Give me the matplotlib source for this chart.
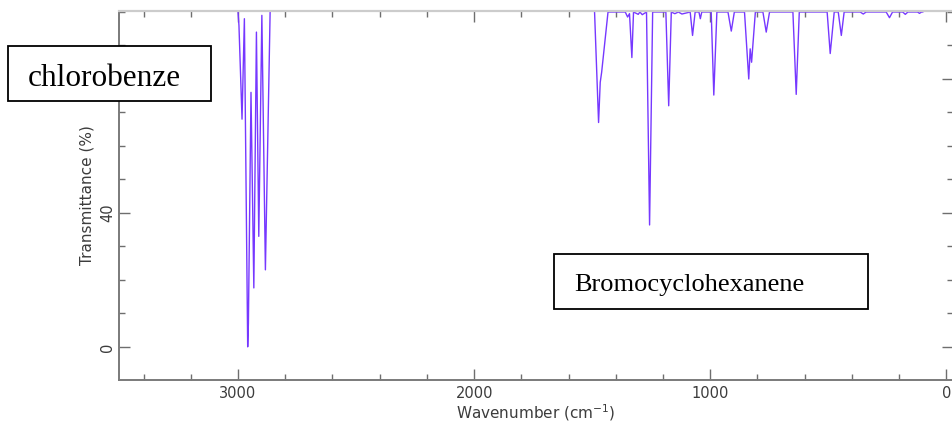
import matplotlib
matplotlib.use("Agg")
from matplotlib import pyplot as plt
from matplotlib.patches import Rectangle
from matplotlib.ticker import MultipleLocator, FuncFormatter

# C-H stretch region (wavenumber cm-1, transmittance %); values >100 sit above the frame
ch_wn = [3505, 3003, 3000, 2996, 2983, 2973, 2959, 2956, 2945, 2933, 2922, 2912,
         2899, 2884, 2864, 2855, 1495]
ch_t = [101, 101, 100, 96, 68, 98, 0, 7, 76, 17.6, 94, 33,
        99, 23, 100, 101, 101]

# fingerprint region
fp_wn = [1490, 1473, 1466, 1460, 1433, 1360, 1350, 1342, 1332, 1325, 1305, 1298,
         1288, 1270, 1257, 1244, 1188, 1176, 1165, 1150, 1135, 1120, 1085, 1075,
         1064, 1048, 1042, 1036, 996, 985, 972, 925, 911, 898, 855, 837,
         831, 825, 809, 777, 763, 749, 650, 636, 623, 505, 492, 475,
         458, 445, 433, 365, 352, 340, 255, 241, 228, 185, 174, 163,
         122, 114, 105, 100]
fp_t = [100, 67, 79, 82, 100, 100, 98.5, 99.5, 86.4, 100, 99.3, 100,
        99.2, 100, 36.4, 100, 100, 72, 100, 99.5, 100, 99.4, 100, 93,
        100, 100, 98, 100, 100, 75.2, 100, 100, 94.3, 100, 100, 80,
        89, 85, 100, 100, 94, 100, 100, 75.4, 100, 100, 87.6, 100,
        100, 93, 100, 100, 99.4, 100, 100, 98.3, 100, 100, 99.3, 100,
        100, 99.6, 100, 100]

labels = ["chlorobenze", "Bromocyclohexanene"]
shown_yticks = [0, 40]  # 80 is covered by the label box in the original

W, H = 952, 423
fig = plt.figure(figsize=(W / 100, H / 100), dpi=100)
ax = fig.add_axes([119 / W, 1 - 380 / H, (953 - 119) / W, (380 - 11) / H])

ax.plot(ch_wn + fp_wn, ch_t + fp_t, color="#7638ff", lw=1.0, clip_on=True)

ax.set_xlim(3504, -28)
ax.set_ylim(-9.9, 100.3)
ax.xaxis.set_major_locator(MultipleLocator(1000))
ax.xaxis.set_minor_locator(MultipleLocator(200))
ax.yaxis.set_major_locator(MultipleLocator(40))
ax.yaxis.set_minor_locator(MultipleLocator(10))
ax.yaxis.set_major_formatter(FuncFormatter(
    lambda v, p: f"{v:.0f}" if round(v) in shown_yticks else ""))
ax.tick_params(which="both", direction="in", top=True, right=True,
               color="#6e6e6e", labelcolor="#3c3c3c", labelsize=10.5)
ax.tick_params(which="major", length=8, width=1.0)
ax.tick_params(which="minor", length=4.5, width=1.0)
ax.tick_params(axis="x", pad=4)
ax.tick_params(axis="y", pad=3)
for lab in ax.get_yticklabels():
    lab.set_rotation(90)
    lab.set_va("center")

for side in ["left", "bottom"]:
    ax.spines[side].set_color("#7a7a7a")
    ax.spines[side].set_linewidth(1.4)
ax.spines["top"].set_color("#cccccc")
ax.spines["top"].set_linewidth(1.6)
ax.spines["right"].set_color("#cccccc")

ax.set_xlabel("Wavenumber (cm$^{-1}$)", fontsize=11, color="#3c3c3c", labelpad=1)
ax.set_ylabel("Transmittance (%)", fontsize=11, color="#3c3c3c", labelpad=4)

# label boxes (pixel positions of the reference)
def label_box(x0, y0, x1, y1, tx, ty, text, size):
    fig.patches.append(Rectangle((x0 / W, 1 - y1 / H), (x1 - x0) / W, (y1 - y0) / H,
                                 transform=fig.transFigure, facecolor="white",
                                 edgecolor="black", lw=1.3, zorder=5))
    fig.text(tx / W, 1 - ty / H, text, family="Liberation Serif", fontsize=size,
             ha="left", va="baseline", zorder=6)

label_box(8, 46, 211, 101, 28, 86, labels[0], 22.5)
label_box(554, 254, 868, 309, 574, 291, labels[1], 19)

fig.savefig("out.png", dpi=100)
